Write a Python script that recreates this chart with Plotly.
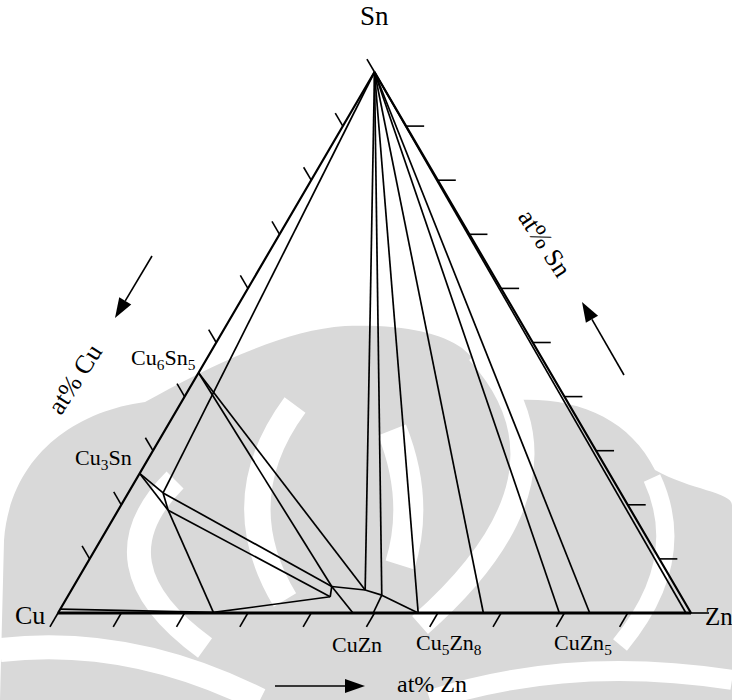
import plotly.graph_objects as go

# ---------------- data: Cu-Sn-Zn isothermal section, compositions in at% ----------------
node_names = ["Sn", "Cu6Sn5", "Cu3Sn", "CuSS", "P1", "P2", "P3", "P4", "P5", "P6",
              "Q1", "Q4", "Q8", "Q2", "Q3", "Q5", "Q6", "Q7"]
node_sn = [100, 44.4, 25.8, 0.7, 22.2, 19.0, 4.9, 3.0, 4.25, 3.3,
           0.1, 0, 0, 0, 0, 0, 0, 0]
node_zn = [0, 0, 0, 0, 5.5, 7.9, 40.8, 41.5, 46.4, 49.5,
           24.5, 46.6, 49.8, 56.9, 67.2, 79.2, 84.0, 99.2]

# phase boundaries / tie lines as node pairs
seg_start = ["Sn", "Sn", "Sn", "Sn", "Sn", "Sn", "Sn", "Sn",
             "Cu6Sn5", "Cu6Sn5", "Cu3Sn", "Cu3Sn", "P1", "P2",
             "P1", "P2", "P3", "Q1", "CuSS", "P3", "P5", "P6", "P6", "P3"]
seg_end = ["P1", "P5", "P6", "Q2", "Q3", "Q5", "Q6", "Q7",
           "P3", "P5", "P1", "P2", "P2", "Q1",
           "P3", "P4", "P4", "P4", "Q1", "P5", "P6", "Q2", "Q8", "Q4"]

tick_values = [0, 10, 20, 30, 40, 50, 60, 70, 80, 90]

phase_labels = ["Cu<sub>6</sub>Sn<sub>5</sub>", "Cu<sub>3</sub>Sn"]
phase_label_nodes = ["Cu6Sn5", "Cu3Sn"]
zn_compounds = ["CuZn", "Cu<sub>5</sub>Zn<sub>8</sub>", "CuZn<sub>5</sub>"]
zn_compound_pos = [47.2, 61.8, 82.9]

# ---------------- geometry ----------------
FIG_W, FIG_H = 732, 700
BASE_PX, HEIGHT_PX = 633.0, 541.0          # triangle base / height in pixels
X_RANGE = [-58 / BASE_PX, (FIG_W - 58) / BASE_PX]
Y_RANGE = [-(FIG_H - 613) / HEIGHT_PX, 613 / HEIGHT_PX]


def to_xy(sn, zn):
    """ternary composition (at% Sn, at% Zn) -> cartesian plot coordinates"""
    return zn / 100 + sn / 200, sn / 100


def to_px(x, y):
    px = (x - X_RANGE[0]) / (X_RANGE[1] - X_RANGE[0]) * FIG_W
    py = (Y_RANGE[1] - y) / (Y_RANGE[1] - Y_RANGE[0]) * FIG_H
    return px, py


def px_offset(x, y, ux, uy, length):
    """move a plot point by a screen-space vector"""
    return (x + ux * length / FIG_W * (X_RANGE[1] - X_RANGE[0]),
            y - uy * length / FIG_H * (Y_RANGE[1] - Y_RANGE[0]))


def unit(ax, ay, bx, by):
    dx, dy = bx - ax, by - ay
    n = (dx * dx + dy * dy) ** 0.5
    return dx / n, dy / n


def paper(px, py):
    return px / FIG_W, 1 - py / FIG_H


node = {n: to_xy(s, z) for n, s, z in zip(node_names, node_sn, node_zn)}
cu_v, zn_v, sn_v = to_xy(0, 0), to_xy(0, 100), to_xy(100, 0)
cu_p, zn_p, sn_p = to_px(*cu_v), to_px(*zn_v), to_px(*sn_v)

fig = go.Figure()

# ---------------- background emblem (light grey) ----------------
GREY = "#d9d9d9"


def path_px(cmds):
    out = []
    for c in cmds:
        if isinstance(c, str):
            out.append(c)
        else:
            x, y = paper(*c)
            out.append(f"{x:.4f},{y:.4f}")
    return " ".join(out)


emblem_fill = [
    ["M", (0, 700), "L", (4, 540), "C", (10, 460), (70, 412), (145, 402),
     "C", (200, 372), (280, 330), (345, 326), "C", (400, 324), (440, 332), (462, 348),
     "L", (520, 400), "C", (580, 398), (630, 420), (655, 470),
     "C", (690, 490), (732, 492), (732, 505),
     "L", (732, 700), "Z"],
]
emblem_gaps = [
    (["M", (175, 480), "Q", (90, 565), (205, 648)], 24),
    (["M", (295, 405), "Q", (225, 500), (285, 600)], 26),
    (["M", (392, 430), "Q", (420, 500), (400, 565)], 30),
    (["M", (478, 352), "Q", (590, 475), (420, 625)], 24),
    (["M", (652, 478), "Q", (690, 560), (620, 645)], 18),
    (["M", (0, 650), "Q", (130, 635), (260, 700)], 24),
    (["M", (430, 700), "Q", (570, 655), (732, 680)], 20),
]
for p in emblem_fill:
    fig.add_shape(type="path", path=path_px(p), xref="paper", yref="paper",
                  fillcolor=GREY, line=dict(width=0), layer="below")
for p, w in emblem_gaps:
    fig.add_shape(type="path", path=path_px(p), xref="paper", yref="paper",
                  line=dict(color="white", width=w), layer="below")

# ---------------- triangle frame ----------------
fig.add_trace(go.Scatter(
    x=[sn_v[0], cu_v[0], zn_v[0], sn_v[0]], y=[sn_v[1], cu_v[1], zn_v[1], sn_v[1]],
    mode="lines", line=dict(color="black", width=2.2), hoverinfo="skip"))

# ---------------- ticks (clockwise convention) ----------------
tx, ty = [], []
u_left = unit(zn_p[0], zn_p[1], sn_p[0], sn_p[1])     # Cu ticks, parallel to Sn-Zn edge
u_bottom = unit(sn_p[0], sn_p[1], cu_p[0], cu_p[1])   # Zn ticks, parallel to Cu-Sn edge
u_right = (1.0, 0.0)                                   # Sn ticks, horizontal
for v in tick_values:
    for (x0, y0), u, L in [(to_xy(100 - v, 0), u_left, 15),
                           (to_xy(0, v), u_bottom, 16),
                           (to_xy(v, 100 - v), u_right, 18)]:
        x1, y1 = px_offset(x0, y0, u[0], u[1], L)
        tx += [x0, x1, None]
        ty += [y0, y1, None]
fig.add_trace(go.Scatter(x=tx, y=ty, mode="lines",
                         line=dict(color="black", width=1.6), hoverinfo="skip"))

# ---------------- phase boundaries ----------------
lx, ly = [], []
for a, b in zip(seg_start, seg_end):
    lx += [node[a][0], node[b][0], None]
    ly += [node[a][1], node[b][1], None]
fig.add_trace(go.Scatter(x=lx, y=ly, mode="lines",
                         line=dict(color="black", width=1.7), hoverinfo="skip"))

# heavier base line
fig.add_trace(go.Scatter(x=[cu_v[0], zn_v[0]], y=[cu_v[1], zn_v[1]], mode="lines",
                         line=dict(color="black", width=2.8), hoverinfo="skip"))

# ---------------- labels ----------------
SERIF = "Liberation Serif, Times New Roman, serif"
ann = []


def label(text, x, y, size, **kw):
    ann.append(dict(text=text, x=x, y=y, xref="x", yref="y", showarrow=False,
                    font=dict(family=SERIF, size=size, color="black"), **kw))


label("Sn", sn_v[0], sn_v[1], 27, yshift=56)
label("Cu", cu_v[0], cu_v[1], 26, xanchor="right", xshift=-11, yshift=-2)
label("Zn", zn_v[0], zn_v[1], 25, xanchor="left", xshift=12, yshift=-3)
for t, n in zip(phase_labels, phase_label_nodes):
    label(t, node[n][0], node[n][1], 22, xanchor="right", xshift=-1 if n == "Cu6Sn5" else -6,
          yshift=14)
for t, z in zip(zn_compounds, zn_compound_pos):
    bx, by = to_xy(0, z)
    label(t, bx, by, 22, yshift=-31)


def ptext(text, px, py, size, angle=0):
    x, y = paper(px, py)
    ann.append(dict(text=text, x=x, y=y, xref="paper", yref="paper", showarrow=False,
                    xanchor="center", yanchor="middle",
                    textangle=angle, font=dict(family=SERIF, size=size, color="black")))


ptext("at% Cu", 75, 380, 26, -57)
ptext("at% Sn", 545, 243, 26, 57)
ptext("at% Zn", 432, 684, 24)

fig.update_layout(annotations=ann)

# direction arrows
for (x0, y0), (x1, y1) in [((152, 256), (115, 318)), ((624, 375), (582, 302)),
                            ((275, 686), (365, 686))]:
    ux, uy = unit(x0, y0, x1, y1)
    hl, hw = 20, 7
    bx, by = x1 - ux * hl, y1 - uy * hl
    fig.add_shape(type="line", x0=paper(x0, y0)[0], y0=paper(x0, y0)[1],
                  x1=paper(bx, by)[0], y1=paper(bx, by)[1], xref="paper", yref="paper",
                  line=dict(color="black", width=1.6))
    tri = ["M", (x1, y1), "L", (bx - uy * hw, by + ux * hw), "L", (bx + uy * hw, by - ux * hw), "Z"]
    fig.add_shape(type="path", path=path_px(tri), xref="paper", yref="paper",
                  fillcolor="black", line=dict(width=0))

fig.update_layout(
    width=FIG_W, height=FIG_H, margin=dict(l=0, r=0, t=0, b=0),
    paper_bgcolor="white", plot_bgcolor="white", showlegend=False,
    xaxis=dict(range=X_RANGE, visible=False, fixedrange=True),
    yaxis=dict(range=Y_RANGE, visible=False, fixedrange=True),
)

fig.write_html("out.html")
